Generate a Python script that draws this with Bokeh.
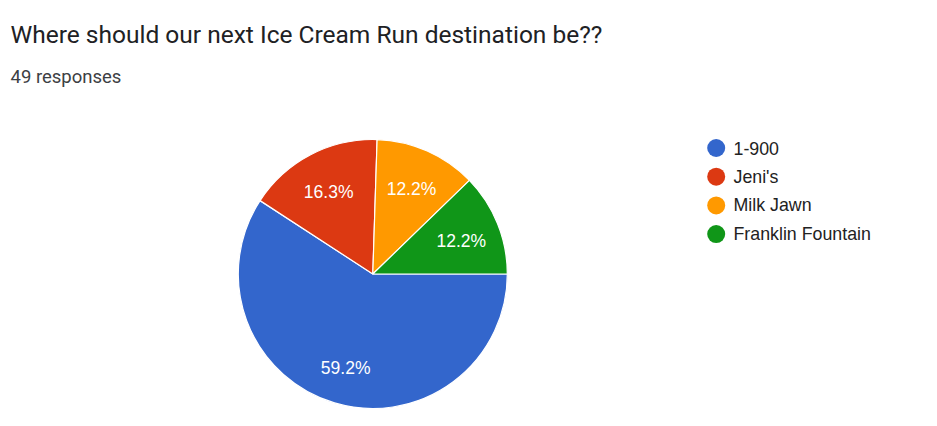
import math
from bokeh.plotting import figure
from bokeh.models import Range1d, Label, ColumnDataSource
from bokeh.embed import file_html
from bokeh.resources import INLINE

# Survey results
categories = ["1-900", "Jeni's", "Milk Jawn", "Franklin Fountain"]
counts = [29, 8, 6, 6]
colors = ["#3366cc", "#dc3912", "#ff9900", "#109618"]
title_text = "Where should our next Ice Cream Run destination be??"
subtitle_text = "49 responses"

W, H = 937, 426
total = sum(counts)

# Pie geometry (pixel units, y grows upward)
cx, cy, r = 372.3, H - 273.5, 134.5
label_frac = 0.71
label_drop = 2.5

starts, ends, labels, lx, ly = [], [], [], [], []
acc = 0.0
for c in counts:
    a0 = -acc / total * 2 * math.pi
    acc += c
    a1 = -acc / total * 2 * math.pi
    starts.append(a1)
    ends.append(a0)
    mid = (a0 + a1) / 2
    lx.append(cx + label_frac * r * math.cos(mid))
    ly.append(cy + label_frac * r * math.sin(mid) - label_drop)
    labels.append(f"{c / total * 100:.1f}%")

src = ColumnDataSource(dict(start=starts, end=ends, color=colors,
                            label=labels, lx=lx, ly=ly, cat=categories))

p = figure(width=W, height=H, x_range=Range1d(0, W), y_range=Range1d(0, H),
           output_backend="svg", toolbar_location=None, min_border=0)
p.axis.visible = False
p.grid.visible = False
p.outline_line_color = None
p.background_fill_color = "white"
p.border_fill_color = "white"

p.wedge(x=cx, y=cy, radius=r, start_angle="start", end_angle="end",
        direction="anticlock", fill_color="color", line_color="white",
        line_width=1.2, source=src)

p.text(x="lx", y="ly", text="label", source=src, text_color="white",
       text_align="center", text_baseline="middle",
       text_font={"value": "Liberation Sans"}, text_font_size="17.5px")

# Legend on the right
leg_x, leg_y0, leg_dy = 715.7, H - 147.5, 28.7
leg_src = ColumnDataSource(dict(
    x=[leg_x] * len(categories),
    y=[leg_y0 - i * leg_dy for i in range(len(categories))],
    tx=[leg_x + 17.3] * len(categories),
    cat=categories, color=colors))
p.scatter(x="x", y="y", size=18, marker="circle", fill_color="color",
          line_color=None, source=leg_src)
p.text(x="tx", y="y", text="cat", source=leg_src, text_color="#222222",
       text_align="left", text_baseline="middle",
       text_font={"value": "Liberation Sans"}, text_font_size="17.8px")

p.add_layout(Label(x=10, y=H - 33.5, text=title_text, text_font="Roboto",
                   text_font_size="24.5px", text_color="#202124",
                   text_baseline="middle"))
p.add_layout(Label(x=10, y=H - 76, text=subtitle_text, text_font="Roboto",
                   text_font_size="18.5px", text_color="#3c4043",
                   text_baseline="middle"))

open("out.html", "w").write(file_html(p, INLINE))
